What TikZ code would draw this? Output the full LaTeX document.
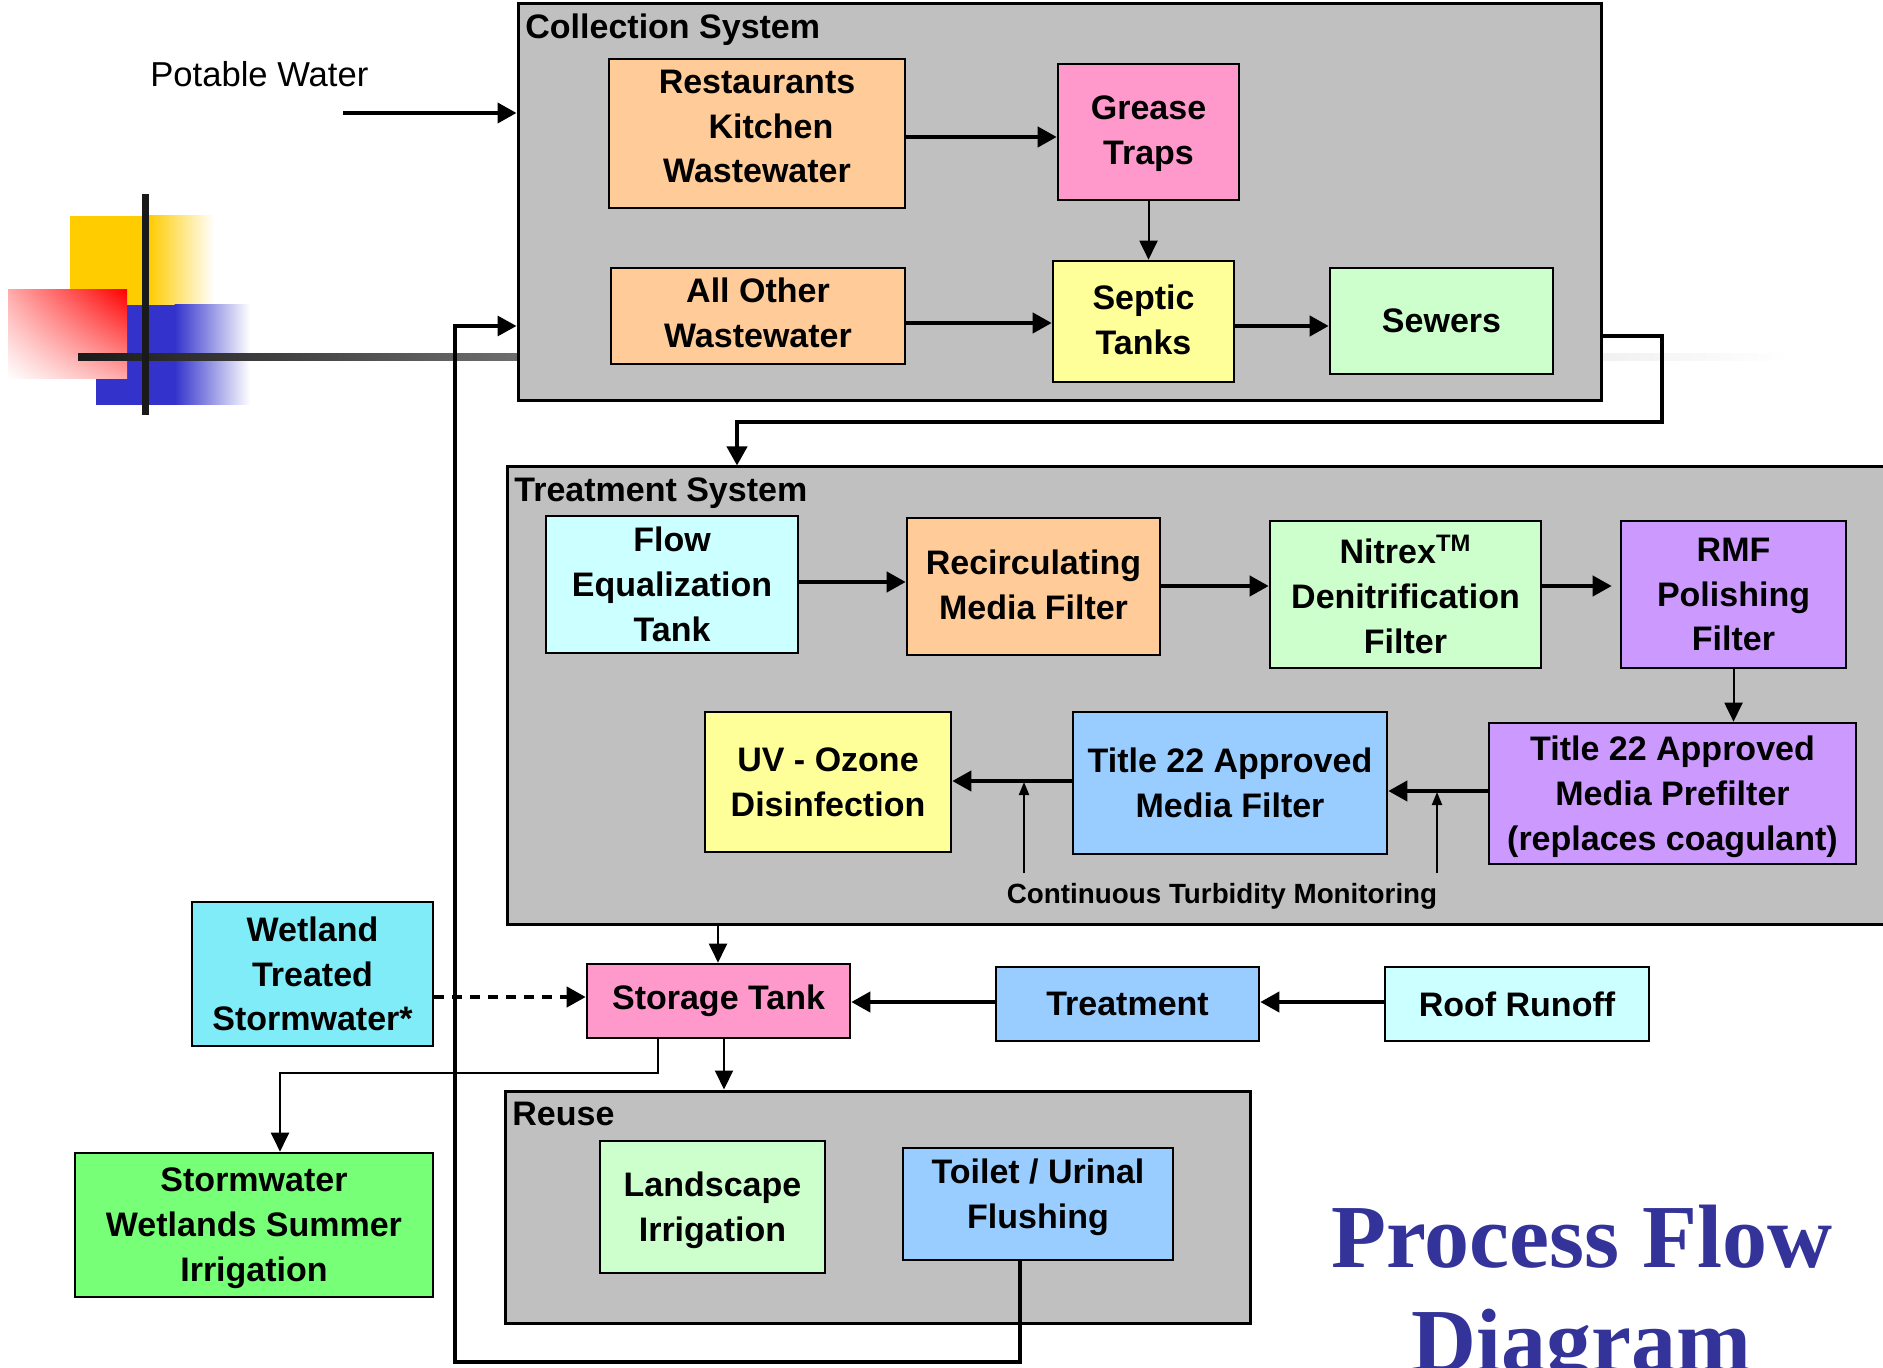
\documentclass[tikz,border=0pt]{standalone}
\usepackage{fontspec}
\setsansfont{Liberation Sans}
\newfontfamily\ttlfamily{Liberation Serif}
\usetikzlibrary{arrows.meta,fit,shadings}
\definecolor{greyb}{RGB}{192,192,192}
\definecolor{peach}{RGB}{255,204,153}
\definecolor{pinkb}{RGB}{255,153,204}
\definecolor{yelb}{RGB}{255,255,153}
\definecolor{greenl}{RGB}{204,255,204}
\definecolor{cyanl}{RGB}{204,255,255}
\definecolor{lav}{RGB}{204,153,255}
\definecolor{blueb}{RGB}{153,204,255}
\definecolor{wetc}{RGB}{128,236,248}
\definecolor{swgreen}{RGB}{119,255,119}
\definecolor{titleblue}{RGB}{51,51,153}
\definecolor{decoyellow}{RGB}{255,204,0}
\definecolor{decoblue}{RGB}{51,51,204}
\definecolor{decodark}{RGB}{26,26,26}
\definecolor{decomid}{RGB}{189,189,189}
\newcommand\bxfont{\sffamily\bfseries\fontsize{17}{22.4}\selectfont}
\newcommand\pwfont{\sffamily\fontsize{17.3}{20}\selectfont}
\newcommand\turbfont{\sffamily\bfseries\fontsize{13.9}{16}\selectfont}
\newcommand\bigttl{\ttlfamily\bfseries\fontsize{45}{52}\selectfont}
% \mkbox[text offset]{name}{x1}{y1}{x2}{y2}{fill}{text}
\newcommand\mkbox[8][0]{%
  \node[box, fill=#7, minimum width={(#5-#3)*0.5pt}, minimum height={(#6-#4)*0.5pt}]
    (#2) at ({(#3+#5)/2},{(#4+#6)/2}) {};
  \node[lbl, align=center] (#2-t) at ({(#3+#5)/2},{(#4+#6)/2+#1}) {#8};}
\tikzset{
  grp/.style={draw, line width=1.5pt, fill=greyb, inner sep=0pt},
  box/.style={draw, line width=1.3pt, inner sep=0pt},
  lbl/.style={inner sep=0pt, font=\bxfont},
  flow/.style={line width=2pt, -{Triangle[length=9.5pt,width=10pt]}},
  thinflow/.style={line width=1pt, -{Triangle[length=9.5pt,width=9pt]}},
  tinyflow/.style={line width=1pt, -{Triangle[length=6.5pt,width=5pt]}},
  loopline/.style={line width=1.6pt, -{Triangle[length=9.5pt,width=10pt]}},
}
\begin{document}
\begin{tikzpicture}[x=0.5pt,y=-0.5pt]
\useasboundingbox (0,0) rectangle (1883,1368);
\clip (0,0) rectangle (1883,1368);
% --- slide template decoration
\fill[decoyellow] (70,216) rectangle (149,305);
\shade[left color=decoyellow,right color=white] (148.5,216) rectangle (214,305);
\fill[decoblue] (96,305) rectangle (175,405);
\shade[left color=decoblue,right color=white] (174.5,305) rectangle (250,405);
\shade[upper right=red, lower left=white, upper left=red!33!white, lower right=red!33!white] (8,290) rectangle (127,379);
\shade[left color=decodark,right color=white,middle color=decomid] (78,354) rectangle (1790,361);
\fill[decodark] (142,194) rectangle (149,415);
% --- group boxes
\node[grp, fit={(518,4)(1601,401)}] (coll) {};
\node[grp, fit={(507,467)(1900,924)}] (treat) {};
\node[grp, fit={(505,1091)(1250,1323)}] (reuse) {};
\node[lbl, anchor=base west] (tcoll) at (525,39) {Collection System};
\node[lbl, anchor=base west] (ttreat) at (514,502) {Treatment System};
\node[lbl, anchor=base west] (treuse) at (512,1125) {Reuse};
% --- collection system
\mkbox[-7]{rest}{609}{59}{905}{208}{peach}{Restaurants\\\hspace*{14pt}Kitchen\\Wastewater}
\mkbox[2]{grease}{1058}{64}{1239}{200}{pinkb}{Grease\\Traps}
\mkbox[-3]{allo}{611}{268}{905}{364}{peach}{All Other\\Wastewater}
\mkbox[-2]{septic}{1053}{261}{1234}{382}{yelb}{Septic\\Tanks}
\mkbox{sewers}{1330}{268}{1553}{374}{greenl}{Sewers}
% --- treatment system
\mkbox{flow}{546}{516}{798}{653}{cyanl}{Flow\\Equalization\\Tank}
\mkbox[-2]{recirc}{907}{518}{1160}{655}{peach}{Recirculating\\Media Filter}
\mkbox{nitrex}{1270}{521}{1541}{668}{greenl}{Nitrex\textsuperscript{TM}\\Denitrification\\Filter}
\mkbox{rmf}{1621}{521}{1846}{668}{lav}{RMF\\Polishing\\Filter}
\mkbox[3]{pref}{1489}{723}{1856}{864}{lav}{Title 22 Approved\\Media Prefilter\\(replaces coagulant)}
\mkbox{mfilt}{1073}{712}{1387}{854}{blueb}{Title 22 Approved\\Media Filter}
\mkbox{uv}{705}{712}{951}{852}{yelb}{UV - Ozone\\Disinfection}
\node[anchor=base, inner sep=0pt, font=\turbfont] (turb) at (1222,903) {Continuous Turbidity Monitoring};
% --- storage and outside
\mkbox{wet}{192}{902}{433}{1046}{wetc}{Wetland\\Treated\\Stormwater*}
\mkbox{stor}{587}{964}{850}{1038}{pinkb}{Storage Tank}
\mkbox{tbox}{996}{967}{1259}{1041}{blueb}{Treatment}
\mkbox{roof}{1385}{967}{1649}{1041}{cyanl}{Roof Runoff}
\mkbox[3]{sww}{75}{1153}{433}{1297}{swgreen}{Stormwater\\Wetlands Summer\\Irrigation}
% --- reuse
\mkbox[3]{land}{600}{1141}{825}{1273}{greenl}{Landscape\\Irrigation}
\mkbox[-7]{toilet}{903}{1148}{1173}{1260}{blueb}{Toilet / Urinal\\Flushing}
% --- potable water
\node[anchor=base west, inner sep=0pt, font=\pwfont] (pwt) at (150,87) {Potable Water};
\coordinate (pw) at (343,113);
\draw[flow] (pw) -- (coll.west |- pw);
% --- collection connectors
\draw[flow] (rest.east |- 0,137) -- (grease.west |- 0,137);
\draw[thinflow] (grease.south) -- (grease.south |- septic.north);
\draw[flow] (allo.east |- 0,323) -- (septic.west |- 0,323);
\draw[flow] (septic.east |- 0,326) -- (sewers.west |- 0,326);
\draw[flow] (coll.east |- 0,336) -| (1662,422) -| (treat.north -| 737,0);
% --- treatment connectors
\draw[flow] (flow.east |- 0,582) -- (recirc.west |- 0,582);
\draw[flow] (recirc.east |- 0,586) -- (nitrex.west |- 0,586);
\draw[flow] (nitrex.east |- 0,586) -- ([xshift=-4pt]rmf.west |- 0,586);
\draw[thinflow] (rmf.south) -- (rmf.south |- pref.north);
\draw[flow] (pref.west |- 0,791) -- (mfilt.east |- 0,791);
\draw[flow] (mfilt.west |- 0,781) -- (uv.east |- 0,781);
\coordinate (tm1) at (1024,873);
\coordinate (tm2) at (1437,873);
\draw[tinyflow] (tm1) -- (tm1 |- 0,782);
\draw[tinyflow] (tm2) -- (tm2 |- 0,792);
% --- storage connectors
\draw[thinflow] (treat.south -| 718,0) -- (stor.north -| 718,0);
\draw[flow, dash pattern=on 5pt off 4pt] (wet.east |- 0,997) -- (stor.west |- 0,997);
\draw[flow] (tbox.west |- 0,1002) -- (stor.east |- 0,1002);
\draw[flow] (roof.west |- 0,1002) -- (tbox.east |- 0,1002);
\draw[thinflow] (stor.south -| 724,0) -- (reuse.north -| 724,0);
\draw[thinflow] (stor.south -| 658,0) |- (280,1073) -- (sww.north -| 280,0);
% --- return loop
\draw[loopline] (toilet.south -| 1020,0) -- (1020,1362) -- (455,1362) -- (455,326) -- (coll.west |- 0,326);
% --- title
\node[anchor=base, inner sep=0pt, font=\bigttl, text=titleblue] (pf1) at (1582,1267) {Process Flow};
\node[anchor=base, inner sep=0pt, font=\bigttl, text=titleblue] (pf2) at (1581,1371) {Diagram};
\end{tikzpicture}
\end{document}
